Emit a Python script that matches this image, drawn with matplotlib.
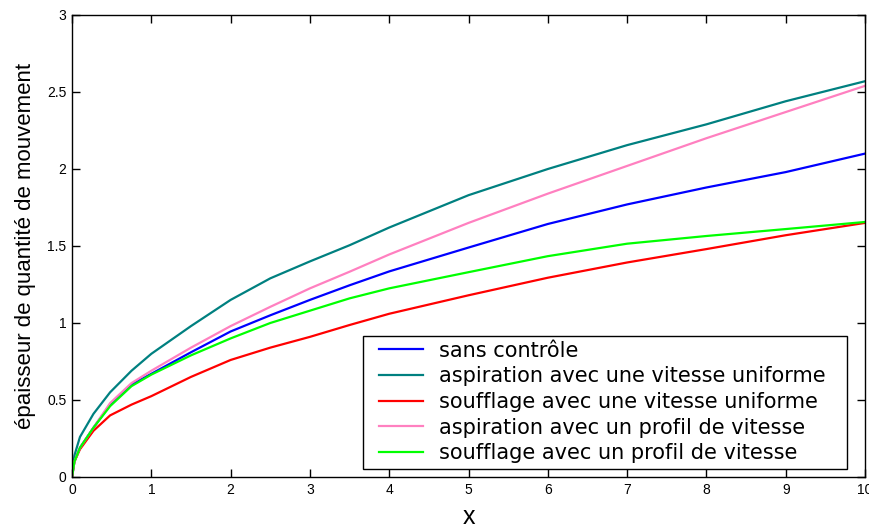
import numpy as np
import matplotlib.pyplot as plt
from matplotlib.patches import Rectangle

plt.rcParams['font.family'] = ['Liberation Sans', 'DejaVu Sans']

# values
x_pts = [0, 0.03, 0.1, 0.27, 0.48, 0.75, 1, 1.5, 2, 2.5, 3, 3.5, 4, 5, 6, 7, 8, 9, 10]

sans_controle = [0, 0.10, 0.19, 0.32, 0.47, 0.60, 0.67, 0.81, 0.945, 1.05, 1.15, 1.245, 1.335,
                 1.49, 1.643, 1.77, 1.88, 1.98, 2.10]
aspi_uniforme = [0, 0.14, 0.26, 0.41, 0.55, 0.69, 0.80, 0.98, 1.15, 1.29, 1.40, 1.505, 1.62,
                 1.83, 2.00, 2.155, 2.29, 2.44, 2.57]
souf_uniforme = [0, 0.10, 0.18, 0.30, 0.40, 0.47, 0.525, 0.65, 0.76, 0.84, 0.91, 0.987, 1.06,
                 1.18, 1.294, 1.393, 1.48, 1.57, 1.65]
aspi_profil = [0, 0.10, 0.19, 0.32, 0.48, 0.61, 0.69, 0.84, 0.98, 1.105, 1.225, 1.333, 1.445,
               1.65, 1.84, 2.02, 2.20, 2.37, 2.54]
souf_profil = [0, 0.10, 0.19, 0.32, 0.46, 0.59, 0.665, 0.79, 0.90, 1.00, 1.08, 1.16, 1.225,
               1.33, 1.434, 1.515, 1.565, 1.61, 1.656]

labels = ["sans contrôle",
          "aspiration avec une vitesse uniforme",
          "soufflage avec une vitesse uniforme",
          "aspiration avec un profil de vitesse",
          "soufflage avec un profil de vitesse"]
series = [sans_controle, aspi_uniforme, souf_uniforme, aspi_profil, souf_profil]
colors = ['#0000ff', '#008080', '#ff0000', '#ff80c0', '#00ff00']

fig = plt.figure(figsize=(8.7, 5.3), dpi=100)
ax = fig.add_axes([0.0828, 0.1, 0.9115, 0.8717])

for y, c, lab in zip(series, colors, labels):
    ax.plot(x_pts, y, color=c, linewidth=1.6, label=lab)

ax.set_xlim(0, 10)
ax.set_ylim(0, 3)
ax.set_xticks(range(0, 11))
ax.set_yticks([0, 0.5, 1, 1.5, 2, 2.5, 3])
ax.set_yticklabels(['0', '0.5', '1', '1.5', '2', '2.5', '3'])
ax.tick_params(direction='in', length=6, width=1, top=True, right=True,
               labelsize=10, pad=4)
for s in ax.spines.values():
    s.set_linewidth(1)

ax.set_xlabel('x', fontsize=18, labelpad=6)
ax.set_ylabel('épaisseur de quantité de mouvement', fontsize=16, labelpad=8)

# legend box drawn separately: wider side padding than matplotlib allows
box = Rectangle((0.367, 0.0173), 0.61, 0.2877, transform=ax.transAxes,
                facecolor='white', edgecolor='black', linewidth=1, zorder=4.9)
ax.add_patch(box)
leg = ax.legend(loc='center', bbox_to_anchor=(0.669, 0.1626), borderaxespad=0,
                prop={'family': 'DejaVu Sans', 'size': 15},
                handlelength=2.1, handletextpad=0.77, labelspacing=0.27,
                borderpad=0, frameon=False)
leg.set_zorder(5)

fig.savefig('out.png', dpi=100)
